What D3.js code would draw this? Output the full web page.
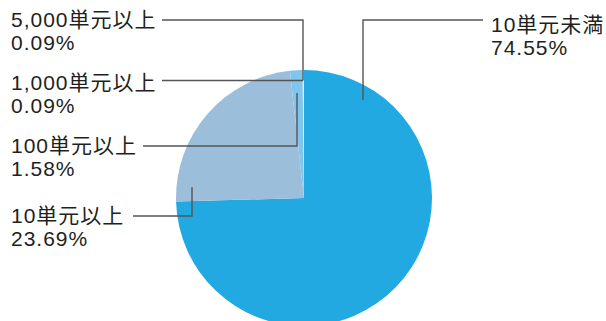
<!DOCTYPE html>
<html><head><meta charset="utf-8">
<script src="https://cdn.jsdelivr.net/npm/d3@7"></script>
<style>
html,body{margin:0;padding:0;background:#fff;}
svg{display:block;}
text{font-family:"Liberation Sans","Noto Sans CJK JP",sans-serif;font-size:21px;fill:#231f20;letter-spacing:1px;}
</style></head>
<body>
<svg id="c" width="606" height="321"></svg>
<script>
const categories = ["10単元未満", "10単元以上", "100単元以上", "1,000単元以上", "5,000単元以上"];
const values = [74.55, 23.69, 1.58, 0.09, 0.09];
const valueLabels = ["74.55%", "23.69%", "1.58%", "0.09%", "0.09%"];
const colors = ["#23a9e1", "#9bbfdb", "#80c5ec", "#b5dcf3", "#d4ecf9"];

const W = 606, H = 321;
const cx = 304, cy = 198, R = 128;
const svg = d3.select("#c");

const pie = d3.pie().sort(null).value(d => d)(values);
const arc = d3.arc().innerRadius(0).outerRadius(R);

const g = svg.append("g").attr("transform", `translate(${cx},${cy})`);
g.selectAll("path").data(pie).join("path")
  .attr("d", arc)
  .attr("fill", (d, i) => colors[i]);

// label layout (leader-line polylines and text anchors)
const layout = [
  {line: [[363,100],[363,20],[483,20]], tx: 491, ty: 32},
  {line: [[192,187],[192,216],[133,216]], tx: 11, ty: 223},
  {line: [[297,93],[297,146],[143,146]], tx: 11, ty: 153},
  {line: [[303,80.5],[162,80.5]], tx: 11, ty: 90},
  {line: [[303,80.5],[303,20],[162,20]], tx: 11, ty: 27}
];
const lh = 23;

const lineGen = d3.line();
svg.append("g").selectAll("path").data(layout).join("path")
  .attr("d", d => lineGen(d.line))
  .attr("fill", "none")
  .attr("stroke", "#555")
  .attr("stroke-width", 1.4);

const lab = svg.append("g").selectAll("text").data(categories).join("text")
  .attr("x", (d, i) => layout[i].tx)
  .attr("y", (d, i) => layout[i].ty);
lab.append("tspan").text(d => d);
lab.append("tspan")
  .attr("x", (d, i) => layout[i].tx)
  .attr("dy", lh)
  .text((d, i) => valueLabels[i]);
</script>
</body></html>
